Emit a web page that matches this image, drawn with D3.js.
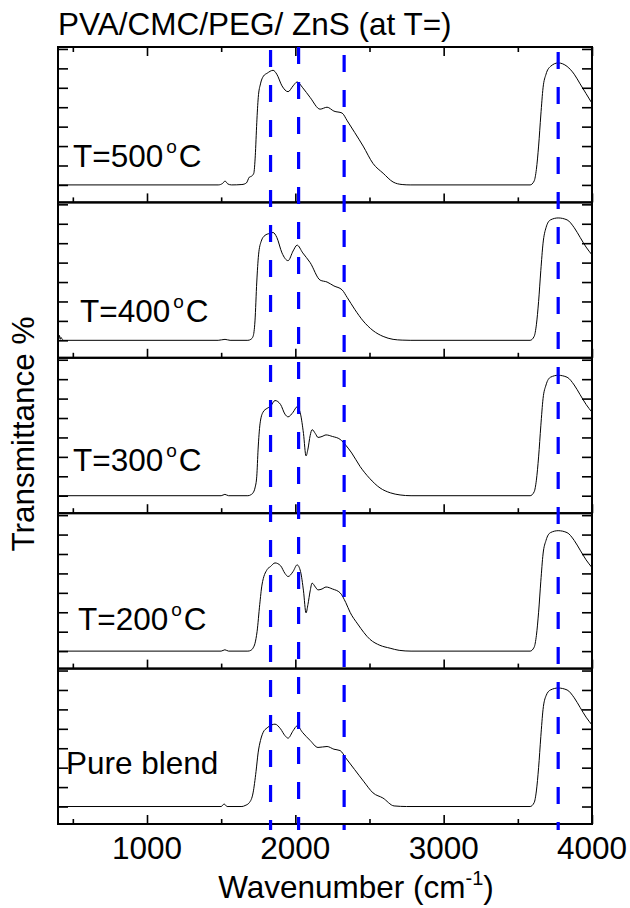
<!DOCTYPE html>
<html><head><meta charset="utf-8">
<script src="https://cdn.jsdelivr.net/npm/d3@7"></script>
<style>
body{margin:0;background:#fff;}
text{font-family:"Liberation Sans",Arial,sans-serif;fill:#000;}
</style></head>
<body><svg id="c" width="630" height="908"></svg>
<script>
// ---------- data ----------
const panelLabels = ["T=500", "T=400", "T=300", "T=200", "Pure blend"];
const panelUnit = [true, true, true, true, false];
const xMajorTicks = [1000, 2000, 3000, 4000];
const xMinorTicks = [500, 1500, 2500, 3500];
const yTicks = [0, 10, 20, 30, 40, 50, 60, 70];
const markerLines = [1833, 2022, 2329, 3772];

const wn500 = [400,1000,1480,1510,1526,1545,1570,1640,1670,1690,1705,1720,1730,1740,1750,1765,1785,1810,1850,1875,1910,1951,1985,2012,2050,2100,2167,2214,2260,2315,2350,2400,2457,2524,2592,2659,2720,2774,3583,3610,3625,3640,3655,3670,3690,3720,3772,3832,3880,3920,3960,4000];
const tr500 = [0,0,0,0.8,2,0.5,0,0.2,1,4,4.5,6,15,32,45,52,56,57.5,59,57,51,48,51,53,50,45,39,40,38,37,33,27,20,11,6,1.5,0.2,0,0,2,8,20,36,50,57,61,62.8,61,57,52,47,42];

const wn400 = [400,405,410,415,420,430,440,1000,1480,1526,1560,1680,1700,1715,1728,1740,1752,1770,1795,1825,1850,1875,1910,1951,1985,2012,2050,2100,2167,2214,2260,2315,2350,2400,2457,2524,2592,2659,2720,2774,3583,3610,3625,3640,3655,3670,3690,3720,3772,3832,3880,3920,3960,4000];
const tr400 = [3,1,2.5,0.5,1.5,0.3,0,0,0,0.5,0,0,0.5,2,10,30,44,51,54,55,55.5,53,45,41,46,49,45,40,31,30,28,26,22,16,10,5,2,0.5,0.1,0,0,2,8,20,36,50,58,62,63,62,58,53,48,44];

const wn300 = [400,1000,1500,1525,1550,1680,1700,1715,1728,1740,1749,1762,1782,1810,1832,1863,1900,1930,1951,1985,2012,2035,2055,2072,2085,2100,2113,2135,2153,2180,2207,2250,2302,2340,2380,2437,2500,2571,2640,2706,2780,3583,3610,3625,3640,3655,3670,3690,3720,3772,3832,3880,3920,3960,4000];
const tr300 = [0,0,0,0.7,0,0,0.5,1.5,4,10,24,37,43,45,46,49,47,42,40.6,43,45.8,42,32,20.5,24,31,34,32,30,30.5,31.3,30.5,29,26,22,15,9,4,1.5,0.4,0,0,2,8,20,36,50,57,61,62,61,57,52,47,43];

const wn200 = [400,1000,1500,1525,1550,1680,1700,1715,1728,1742,1760,1775,1810,1832,1863,1900,1930,1951,1985,2012,2035,2055,2072,2085,2100,2113,2135,2153,2180,2207,2250,2302,2340,2369,2420,2504,2570,2639,2700,2780,3583,3610,3625,3640,3655,3670,3690,3720,3772,3832,3880,3920,3960,4000];
const tr200 = [0,0,0,0.7,0,0,0.4,1.6,4,10,24,34,42,43.5,45.4,44,40,38.4,41,44.4,41,31,19.7,24,31,35,33,31.5,32,33,32,30,25,20,14,6,3,1.5,0.4,0,0,2,8,20,36,50,57,61,62,61,57,52,47,43];

const wnPure = [400,1000,1500,1520,1540,1640,1661,1690,1715,1735,1749,1765,1782,1810,1840,1863,1900,1930,1951,1985,2012,2050,2100,2153,2214,2260,2302,2340,2400,2463,2524,2590,2666,2750,3583,3610,3625,3640,3655,3670,3690,3720,3772,3832,3880,3920,3960,4000];
const trPure = [0,0,0,1.3,0,0,0.5,2,7,18,27.6,34,38,40.5,42,42.4,40,36.5,35.2,39,41.5,38,34,30.4,30.9,29.5,28.8,25,19,12.7,7,4.4,0.3,0,0,2,8,20,36,50,57,60,61,60,56,51,46,42];

const series = [
  {wn: wn500, tr: tr500},
  {wn: wn400, tr: tr400},
  {wn: wn300, tr: tr300},
  {wn: wn200, tr: tr200},
  {wn: wnPure, tr: trPure}
];
const labelPos = [[73,167],[80,322],[73,471],[78,630],[66,774]];

// ---------- layout ----------
const FS = 31.5;
const svg = d3.select("#c");
const L = 58, R = 592, T = 47, B = 824;
const nP = 5, pH = (B - T) / nP;

const x = d3.scaleLinear().domain([400, 4000]).range([L, R]);

svg.append("text").attr("x", 58).attr("y", 35).attr("font-size", FS).text("PVA/CMC/PEG/ ZnS (at T=)");

const line = d3.line().curve(d3.curveMonotoneX);

series.forEach((s, i) => {
  const top = T + i * pH, bot = top + pH;
  const y = d3.scaleLinear().domain([-9, 71]).range([bot, top]);
  const g = svg.append("g");
  const pts = s.wn.map((w, k) => [x(w), y(s.tr[k])]);
  g.append("path").attr("d", line(pts)).attr("fill", "none").attr("stroke", "#000").attr("stroke-width", 1);
  g.append("g").attr("transform", `translate(${L},0)`)
    .call(d3.axisRight(y).tickValues(yTicks).tickSize(10).tickFormat(""))
    .call(a => a.select(".domain").remove())
    .call(a => a.selectAll("line").attr("stroke-width", 1.6));
  g.append("g").attr("transform", `translate(${R},0)`)
    .call(d3.axisLeft(y).tickValues(yTicks).tickSize(10).tickFormat(""))
    .call(a => a.select(".domain").remove())
    .call(a => a.selectAll("line").attr("stroke-width", 1.6));
  g.append("g").attr("transform", `translate(0,${bot})`)
    .call(d3.axisTop(x).tickValues(xMajorTicks).tickSize(9).tickFormat(""))
    .call(a => a.select(".domain").remove())
    .call(a => a.selectAll("line").attr("stroke-width", 1.6));
  g.append("g").attr("transform", `translate(0,${bot})`)
    .call(d3.axisTop(x).tickValues(xMinorTicks).tickSize(5).tickFormat(""))
    .call(a => a.select(".domain").remove())
    .call(a => a.selectAll("line").attr("stroke-width", 1.6));
  if (i === 0) {
    g.append("g").attr("transform", `translate(0,${top})`)
      .call(d3.axisBottom(x).tickValues(xMajorTicks).tickSize(9).tickFormat(""))
      .call(a => a.select(".domain").remove())
      .call(a => a.selectAll("line").attr("stroke-width", 1.6));
    g.append("g").attr("transform", `translate(0,${top})`)
      .call(d3.axisBottom(x).tickValues(xMinorTicks).tickSize(5).tickFormat(""))
      .call(a => a.select(".domain").remove())
      .call(a => a.selectAll("line").attr("stroke-width", 1.6));
  }
  g.append("rect").attr("x", L).attr("y", top).attr("width", R - L).attr("height", pH)
    .attr("fill", "none").attr("stroke", "#000").attr("stroke-width", 2);
  const t = svg.append("text").attr("x", labelPos[i][0]).attr("y", labelPos[i][1])
    .attr("font-size", FS);
  t.append("tspan").text(panelLabels[i]);
  if (panelUnit[i]) {
    t.append("tspan").attr("font-size", 19).attr("dx", 3).attr("dy", -14).text("o");
    t.append("tspan").attr("dy", 14).attr("dx", 2).text("C");
  }
});

const dashStart = [50, 47, 55, 52];
markerLines.forEach((w, k) => {
  svg.append("line").attr("x1", x(w)).attr("x2", x(w)).attr("y1", dashStart[k]).attr("y2", 830)
    .attr("stroke", "#0000ff").attr("stroke-width", 3.2).attr("stroke-dasharray", "17,18");
});

svg.append("g").selectAll("text").data(xMajorTicks).join("text")
  .attr("x", d => x(d)).attr("y", 859).attr("text-anchor", "middle").attr("font-size", FS)
  .text(d => d);

const xt = svg.append("text").attr("x", 356).attr("y", 898).attr("text-anchor", "middle").attr("font-size", FS);
xt.append("tspan").text("Wavenumber (cm");
xt.append("tspan").attr("font-size", 20).attr("dy", -13).text("-1");
xt.append("tspan").attr("dy", 13).text(")");

svg.append("text").attr("transform", "translate(34,434) rotate(-90)").attr("text-anchor", "middle")
  .attr("font-size", FS).text("Transmittance %");
</script></body></html>
